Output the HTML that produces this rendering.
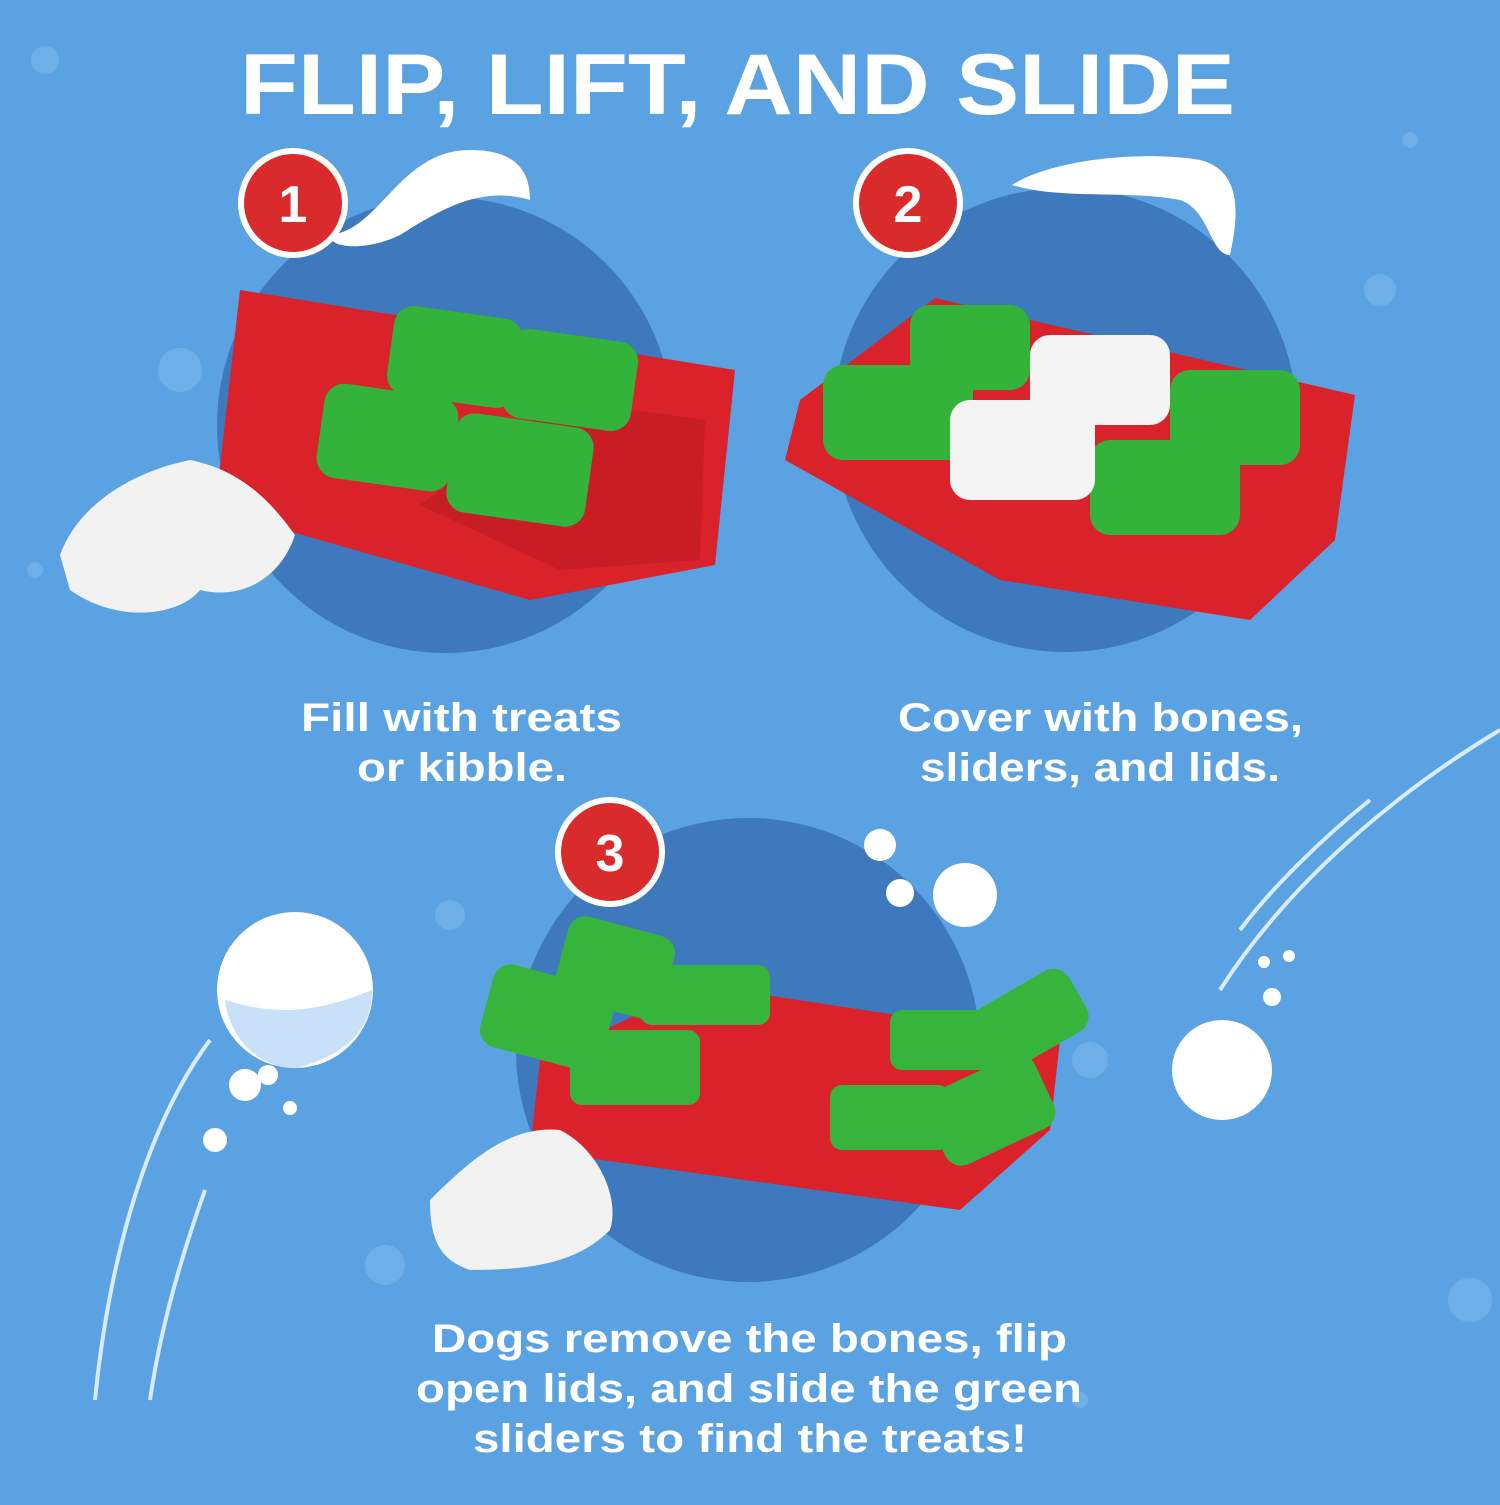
<!DOCTYPE html>
<html><head><style>
body{margin:0;width:1500px;height:1500px;overflow:hidden;background:#5ba2e2;font-family:"Liberation Sans",sans-serif}
</style></head><body>
<svg width="1500" height="1500" viewBox="0 0 1500 1500" xmlns="http://www.w3.org/2000/svg">
<rect width="1500" height="1500" fill="#5ba2e2"/>
<g fill="#7db8ec" opacity="0.6">
<circle cx="45" cy="60" r="14"/><circle cx="180" cy="370" r="22"/><circle cx="1380" cy="290" r="16"/><circle cx="1470" cy="1300" r="22"/><circle cx="450" cy="915" r="15"/><circle cx="1090" cy="1060" r="18"/><circle cx="385" cy="1265" r="20"/><circle cx="1410" cy="140" r="8"/><circle cx="35" cy="570" r="8"/><circle cx="1080" cy="1400" r="8"/>
</g>
<g fill="#3e78bd">
<circle cx="445" cy="425" r="228"/><circle cx="1065" cy="420" r="232"/><circle cx="748" cy="1050" r="232"/>
</g>
<g fill="#fff">
<path d="M330 235 C380 230 400 150 470 150 C520 150 530 175 530 200 C480 185 440 210 400 235 C370 250 330 250 330 235Z"/>
<path d="M1012 185 C1050 160 1140 150 1200 160 C1240 170 1240 210 1230 255 C1210 255 1210 210 1180 200 C1130 190 1060 200 1012 185Z"/>
<circle cx="295" cy="990" r="78"/><circle cx="1222" cy="1070" r="50"/>
<circle cx="880" cy="845" r="16"/><circle cx="900" cy="893" r="14"/><circle cx="965" cy="895" r="32"/>
<circle cx="245" cy="1085" r="16"/><circle cx="268" cy="1075" r="10"/><circle cx="290" cy="1108" r="7"/><circle cx="215" cy="1140" r="12"/>
<circle cx="1272" cy="997" r="9"/><circle cx="1264" cy="962" r="6"/><circle cx="1289" cy="956" r="6"/>
</g>
<path d="M225 1000 C260 1010 300 1020 372 990 C372 1040 330 1060 295 1068 C260 1068 230 1040 225 1000Z" fill="#c8e0f8"/>
<g fill="none" stroke="#d8ebfb" stroke-width="4">
<path d="M210 1040 C150 1120 110 1250 95 1400"/><path d="M205 1190 C180 1260 160 1330 150 1400"/>
<path d="M1500 730 C1400 790 1290 880 1220 990"/><path d="M1370 800 C1320 840 1270 890 1240 930"/>
</g>
<g>
<path d="M240 290 L735 370 L715 565 L530 600 L215 510 Z" fill="#d92229"/>
<path d="M420 505 L560 570 L700 560 L705 420 L560 400Z" fill="#c81d24"/>
<g fill="#33b33a"><rect x="390" y="312" width="130" height="90" rx="20" transform="rotate(8 455 357)"/><rect x="505" y="335" width="130" height="90" rx="20" transform="rotate(8 570 380)"/><rect x="320" y="390" width="135" height="95" rx="20" transform="rotate(8 387 437)"/><rect x="450" y="420" width="140" height="100" rx="20" transform="rotate(8 520 470)"/></g>
<path d="M60 555 C80 500 140 470 190 460 C240 470 270 500 295 535 C280 580 240 600 200 590 C180 615 120 625 70 590Z" fill="#f2f2f2"/>
</g>
<g>
<path d="M800 400 L935 298 L1355 395 L1335 540 L1250 620 L1000 580 L785 460Z" fill="#d92229"/>
<g fill="#33b33a"><rect x="910" y="305" width="120" height="85" rx="20"/><rect x="823" y="365" width="150" height="95" rx="20"/><rect x="1170" y="370" width="130" height="95" rx="20"/><rect x="1090" y="440" width="150" height="95" rx="20"/></g>
<g fill="#f4f4f4"><rect x="1030" y="335" width="140" height="90" rx="20"/><rect x="950" y="400" width="145" height="100" rx="20"/></g>
</g>
<g>
<path d="M540 1060 L700 985 L1060 1040 L1050 1130 L960 1210 L530 1150Z" fill="#d92229"/>
<g fill="#36b43c"><rect x="560" y="925" width="110" height="85" rx="18" transform="rotate(15 615 967)"/><rect x="640" y="965" width="130" height="60" rx="12"/><rect x="485" y="975" width="125" height="85" rx="18" transform="rotate(15 547 1017)"/><rect x="570" y="1030" width="130" height="75" rx="12"/><rect x="890" y="1010" width="110" height="60" rx="12"/><rect x="975" y="985" width="110" height="70" rx="18" transform="rotate(-30 1030 1020)"/><rect x="830" y="1085" width="120" height="65" rx="12"/><rect x="930" y="1070" width="120" height="80" rx="18" transform="rotate(-25 990 1110)"/></g>
<path d="M430 1200 C470 1160 510 1125 560 1130 C600 1150 620 1200 610 1230 C580 1260 540 1270 470 1270 C440 1260 430 1240 430 1200Z" fill="#f2f2f2"/>
</g>
<g font-family="Liberation Sans,sans-serif" font-weight="900" font-size="52" fill="#fff" text-anchor="middle">
<circle cx="293" cy="203" r="52" fill="#d92b2b" stroke="#fff" stroke-width="6"/><text x="293" y="222">1</text>
<circle cx="908" cy="203" r="52" fill="#d92b2b" stroke="#fff" stroke-width="6"/><text x="908" y="222">2</text>
<circle cx="610" cy="852" r="52" fill="#d92b2b" stroke="#fff" stroke-width="6"/><text x="610" y="871">3</text>
</g>
<g font-family="Liberation Sans,sans-serif" fill="#fff">
<text x="240" y="114" font-size="86" font-weight="900" textLength="995" lengthAdjust="spacingAndGlyphs">FLIP, LIFT, AND SLIDE</text>
<g font-size="40" font-weight="bold">
<text x="301" y="731" textLength="321" lengthAdjust="spacingAndGlyphs">Fill with treats</text><text x="357" y="781" textLength="210" lengthAdjust="spacingAndGlyphs">or kibble.</text>
<text x="898" y="731" textLength="405" lengthAdjust="spacingAndGlyphs">Cover with bones,</text><text x="920" y="781" textLength="360" lengthAdjust="spacingAndGlyphs">sliders, and lids.</text>
<text x="432" y="1352" textLength="635" lengthAdjust="spacingAndGlyphs">Dogs remove the bones, flip</text><text x="416" y="1402" textLength="666" lengthAdjust="spacingAndGlyphs">open lids, and slide the green</text><text x="473" y="1452" textLength="554" lengthAdjust="spacingAndGlyphs">sliders to find the treats!</text>
</g></g>
</svg>
</body></html>
